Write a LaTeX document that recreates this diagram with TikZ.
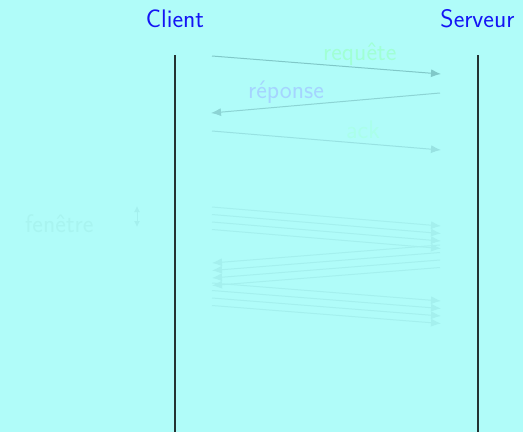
\documentclass[tikz,border=0pt]{standalone}
\usetikzlibrary{arrows.meta}
\definecolor{bgc}{RGB}{176,252,249}
\definecolor{titlec}{RGB}{20,20,245}
\definecolor{reqc}{RGB}{160,255,212}
\definecolor{repc}{RGB}{165,212,255}
\definecolor{ackc}{RGB}{170,255,234}
\definecolor{fenc}{RGB}{168,244,240}
\definecolor{a1c}{RGB}{128,200,200}
\definecolor{a2c}{RGB}{140,212,212}
\definecolor{a3c}{RGB}{152,226,226}
\definecolor{a4c}{RGB}{164,240,238}
\tikzset{
  lbl/.style={inner sep=0pt, anchor=base west, font=\sffamily\fontsize{25.4}{30}\selectfont},
  ttl/.style={inner sep=0pt, anchor=base, text=titlec, font=\sffamily\fontsize{25.4}{30}\selectfont},
  life/.style={draw=black!80!bgc, line width=1.1pt},
  msg/.style={line width=1pt, -{Latex[length=10pt,width=8pt]}},
}
\begin{document}
\begin{tikzpicture}[x=1pt,y=-1pt]
\fill[bgc] (0,0) rectangle (523,432);
\useasboundingbox (0,0) rectangle (523,432);
% titles
\node[ttl] (cl) at (175,27) {Client};
\node[ttl] (sv) at (477.5,27) {Serveur};
% lifelines
\coordinate (ct) at (175,55); \coordinate (cb) at (175,432);
\coordinate (st) at (478,55); \coordinate (sb) at (478,432);
\draw[life] (ct) -- (cb);
\draw[life] (st) -- (sb);
% requete / reponse / ack
\coordinate (r1) at (212,56); \coordinate (r2) at (441,74);
\coordinate (p1) at (440,93); \coordinate (p2) at (211,113);
\coordinate (k1) at (212,131); \coordinate (k2) at (441,150);
\draw[msg, a1c] (r1) -- (r2);
\draw[msg, a2c] (p1) -- (p2);
\draw[msg, a3c] (k1) -- (k2);
\node[lbl, text=reqc] (treq) at (323,60) {requête};
\node[lbl, text=repc] (trep) at (248,98) {réponse};
\node[lbl, text=ackc] (tack) at (346,138) {ack};
% window
\node[lbl, text=fenc] (tfen) at (25,232) {fenêtre};
\coordinate (f1) at (137,206); \coordinate (f2) at (137,227);
\draw[a4c, line width=1pt, {Latex[length=6pt,width=6pt]}-{Latex[length=6pt,width=6pt]}] (f1) -- (f2);
\foreach \i/\a/\b in {0/207/226,1/214.5/233.5,2/222/241,3/229.5/248.5}{
  \coordinate (ga\i) at (212,\a); \coordinate (gb\i) at (441,\b);
  \draw[msg, a4c] (ga\i) -- (gb\i);
}
\foreach \i/\a/\b in {0/245/263,1/252.5/270.5,2/260/278,3/267.5/285.5}{
  \coordinate (ha\i) at (440,\a); \coordinate (hb\i) at (212,\b);
  \draw[msg, a4c] (ha\i) -- (hb\i);
}
\foreach \i/\a/\b in {0/283/301,1/290.5/308.5,2/298/316,3/305.5/323.5}{
  \coordinate (ka\i) at (212,\a); \coordinate (kb\i) at (441,\b);
  \draw[msg, a4c] (ka\i) -- (kb\i);
}
\end{tikzpicture}
\end{document}
